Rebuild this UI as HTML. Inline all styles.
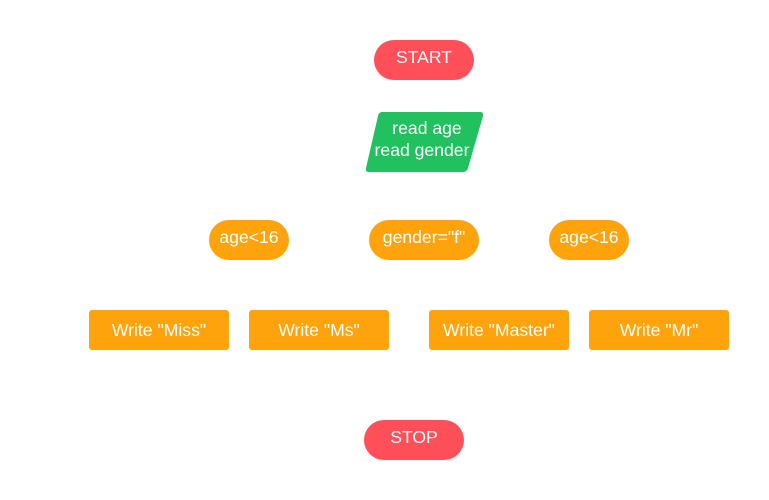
<!DOCTYPE html>
<html><head><meta charset="utf-8"><style>body{margin:0;background:#fff}svg{display:block}text{font-family:"Liberation Sans",sans-serif;font-size:17.6px;fill:#fff;text-anchor:middle}</style></head>
<body><svg width="769" height="500" viewBox="0 0 769 500">
<rect x="374" y="40" width="100" height="40" rx="20" fill="#FF4F58"/>
<text x="424" y="63">START</text>
<path d="M382,112 L480,112 Q484,112 483,116 L468,168 Q467,172 463,172 L369,172 Q365,172 366,168 L378,116 Q379,112 382,112 Z" fill="#22C160"/>
<text x="427" y="134">read age</text>
<text x="422" y="156">read gender</text>
<rect x="209" y="220" width="80" height="40" rx="20" fill="#FFA30C"/>
<text x="249" y="243">age&lt;16</text>
<rect x="369" y="220" width="110" height="40" rx="20" fill="#FFA30C"/>
<text x="424" y="243">gender="f"</text>
<rect x="549" y="220" width="80" height="40" rx="20" fill="#FFA30C"/>
<text x="589" y="243">age&lt;16</text>
<rect x="89" y="310" width="140" height="40" rx="3" fill="#FFA30C"/>
<text x="159" y="336">Write "Miss"</text>
<rect x="249" y="310" width="140" height="40" rx="3" fill="#FFA30C"/>
<text x="319" y="336">Write "Ms"</text>
<rect x="429" y="310" width="140" height="40" rx="3" fill="#FFA30C"/>
<text x="499" y="336">Write "Master"</text>
<rect x="589" y="310" width="140" height="40" rx="3" fill="#FFA30C"/>
<text x="659" y="336">Write "Mr"</text>
<rect x="364" y="420" width="100" height="40" rx="20" fill="#FF4F58"/>
<text x="414" y="443">STOP</text>
</svg></body></html>
